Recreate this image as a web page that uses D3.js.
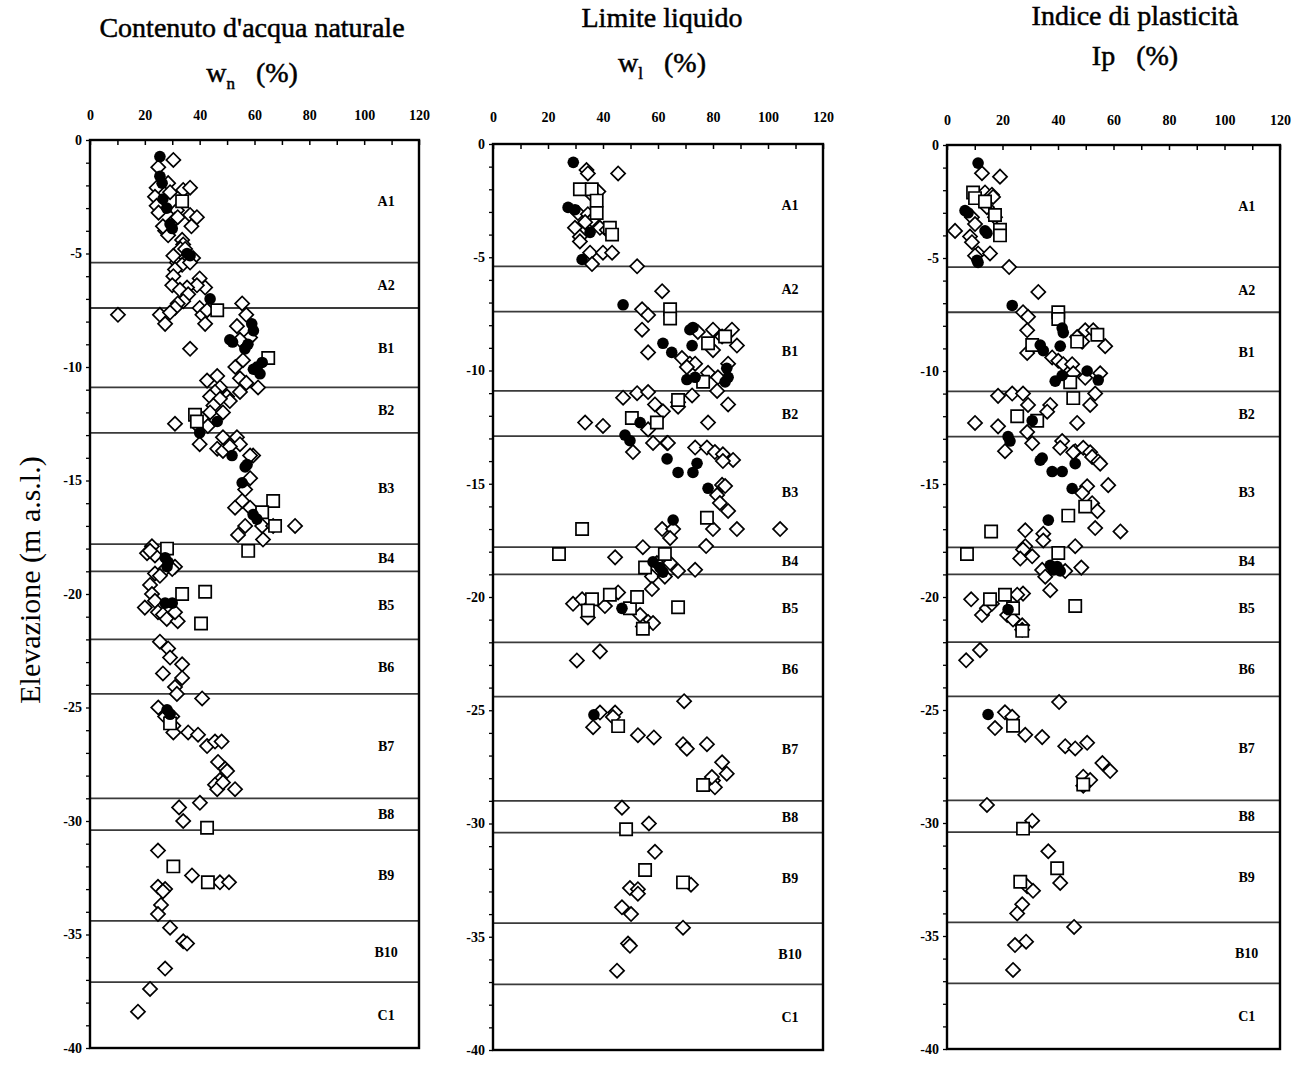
<!DOCTYPE html>
<html>
<head>
<meta charset="utf-8">
<script src="https://cdn.jsdelivr.net/npm/d3@7"></script>
<style>
  body { margin: 0; background: #fff; }
  text { font-family: "Liberation Serif", "Times New Roman", serif; }
</style>
</head>
<body>
<svg id="chart" width="1304" height="1065"></svg>
<script>
// points are [value %, elevation m a.s.l.]

// --- natural water content wn
const wnDiamonds = [
  [30.4,-0.88],[24.9,-1.2],[24.3,-2.1],[28.5,-1.9],[29.2,-2.3],[34,-2.2],[36.5,-2.1],
  [23.7,-2.5],[24.3,-2.9],[25,-3.2],[31.7,-3.1],[36.5,-3.3],[39,-3.4],[37,-3.8],
  [27.4,-4.0],[28.5,-4.2],[26.6,-3.8],[31,-3.5],[32,-3.4],[33.6,-4.4],[34,-4.6],
  [33,-4.8],[34.7,-4.8],[37.6,-5.2],[31.7,-5.4],[33.6,-5.5],[36.5,-5.4],[30.4,-5.1],
  [31,-5.7],[30.4,-6.0],[30,-6.4],[40,-6.1],[42,-6.5],[39,-6.4],[35.4,-6.5],[32.8,-6.6],[35.8,-6.8],
  [40,-7.4],[41,-7.7],[42,-8.1],[42.7,-7.5],[34,-7.1],[32,-7.2],[31,-7.4],
  [25.5,-7.7],[27.4,-8.1],[29.2,-7.6],[10.2,-7.7],[36.5,-9.2],
  [55.5,-7.2],[57,-7.7],[53.6,-8.2],[58.4,-8.7],[54.7,-8.8],
  [53,-10.0],[55.8,-9.7],[54.7,-10.5],[57,-10.7],[61.3,-10.9],[54.7,-11.1],
  [42.7,-10.6],[46.4,-10.4],[47.4,-10.9],[45.6,-11.1],[43.8,-11.3],
  [50,-11.3],[51,-11.5],[47.4,-11.4],[45,-11.7],[43.8,-12.0],
  [41,-12.3],[39.4,-12.6],[43,-12.6],[48.5,-12.0],[31,-12.5],[40,-13.4],
  [48.5,-13.1],[53.6,-13.1],[54.7,-13.4],[59.5,-13.9],[46.4,-13.6],[48.5,-13.7],[51,-13.5],
  [58.4,-13.9],[58.4,-14.9],[56.6,-15.4],[55.5,-15.9],[52.9,-16.2],[58.4,-16.2],
  [56.6,-17.0],[54,-17.4],[62.8,-17.0],[66.8,-17.0],[74.8,-17.0],[63.1,-17.6],
  [22.6,-17.9],[20.8,-18.2],[23.7,-18.3],[21.9,-18.1],
  [31,-18.8],[26.6,-19.0],[23.7,-19.1],[25.5,-19.2],[30,-18.9],
  [21.9,-19.6],[22.6,-20.0],[20,-20.6],[23.7,-20.3],
  [24.8,-20.8],[26.6,-20.9],[28,-21.1],[32,-21.2],[31,-20.8],
  [25.5,-22.1],[28.5,-22.4],[29.2,-22.8],[33.6,-23.1],[26.6,-23.5],[33.6,-23.7],
  [31,-24.1],[31.7,-24.4],[40.9,-24.6],
  [24.9,-25.0],[27.4,-25.4],[30,-25.4],[30.4,-25.8],[30.4,-26.1],[35.8,-26.1],[39.4,-26.2],
  [42.7,-26.7],[45.6,-26.5],[48,-26.5],[46.7,-27.4],[49.3,-27.7],
  [50,-27.8],[47.4,-28.2],[45.6,-28.4],[46.4,-28.6],[52.9,-28.6],[48.5,-28.3],
  [40.1,-29.2],[32.5,-29.4],[34,-30.0],
  [24.8,-31.3],[37.2,-32.4],[47.4,-32.7],[50.7,-32.7],
  [24.8,-32.9],[27.4,-33.0],[26.6,-33.1],[25.9,-33.7],[24.8,-34.1],
  [29.2,-34.7],[34,-35.3],[35.4,-35.4],[27.4,-36.5],
  [21.9,-37.4],[17.5,-38.4]
];
const wnSquares = [
  [33.6,-2.7],[46.4,-7.5],[65,-9.6],[38.3,-12.1],[39,-12.4],
  [66.8,-15.9],[62.8,-16.4],[67.5,-17.0],[57.7,-18.1],[28.1,-18.0],
  [33.6,-20.0],[42,-19.9],[40.5,-21.3],[29.2,-25.7],[42.7,-30.3],[30.4,-32.0],[43,-32.7]
];
const wnCircles = [
  [25.5,-0.73],[25.5,-1.6],[26.3,-1.9],[26.6,-2.6],[28,-3.0],[29.2,-3.7],[30,-3.9],
  [35.4,-5.0],[36.5,-5.1],[43.8,-7.0],[59,-8.1],[59.6,-8.4],[51,-8.8],[52,-8.9],
  [56.5,-9.2],[57.6,-9.0],[61,-10.0],[62,-10.3],[59.6,-10.1],[62.8,-9.8],
  [46.4,-12.4],[40,-12.9],[51.8,-13.9],[56.6,-14.4],[57.3,-14.3],[55.5,-15.1],
  [59.5,-16.5],[60.9,-16.7],[27.4,-18.4],[28.5,-18.6],[28.1,-18.8],
  [27.4,-20.4],[30,-20.4],[28.1,-25.1],[29.2,-25.3]
];

// --- liquid limit wl
const wlDiamonds = [
  [34,-1.15],[34.5,-1.3],[45.5,-1.3],[38.3,-2.1],[36.4,-2.3],
  [30.9,-3.05],[34.5,-3.1],[36,-3.35],[29.8,-3.7],[31.6,-4.1],[31.6,-4.3],[33.5,-3.45],
  [38.9,-3.7],[41.4,-3.8],[35.3,-4.8],[40,-4.8],[43.3,-4.8],[36,-5.3],[52.4,-5.4],
  [61.5,-6.5],[54.2,-7.3],[56.4,-7.55],[54.2,-8.2],[56.4,-9.2],
  [74.5,-8.3],[80,-8.2],[83.3,-8.5],[86.9,-8.2],[88.7,-8.9],[80,-9.1],
  [68.7,-9.45],[71.6,-9.7],[73.5,-9.7],[70.5,-9.85],[78.2,-10.1],[81.8,-10.3],
  [85.5,-9.7],[81.5,-10.9],[85.5,-11.5],
  [47.3,-11.2],[52.4,-11.0],[56.4,-10.95],[72.4,-11.1],[67.3,-11.4],[58.9,-11.5],
  [61.8,-11.8],[67.3,-11.6],[78.2,-12.3],[33.5,-12.3],[40,-12.45],
  [56.4,-12.6],[58.2,-13.2],[63.3,-13.2],[50.9,-13.6],
  [63.6,-13.2],[73.5,-13.4],[77.8,-13.4],[80.7,-13.6],[83.6,-13.7],[87.3,-13.95],[83.6,-14.0],
  [83.3,-15.05],[84.4,-15.1],[81.5,-15.5],[82.5,-15.85],[85.5,-16.2],[80,-17.0],[88.7,-17.0],[104.4,-17.0],
  [61.5,-17.0],[65.5,-17.0],[64.4,-17.4],[77.5,-17.75],
  [44.4,-18.25],[54.5,-17.8],[59.6,-18.5],[64.4,-18.5],[57.8,-19.1],[62.5,-19.1],[67.3,-18.85],[73.5,-18.8],
  [57.8,-19.65],[29.1,-20.3],[32.4,-20.1],[34.5,-20.9],[40.7,-20.4],[45.5,-19.8],
  [53.5,-20.8],[56.4,-21.1],[58.2,-21.15],[54.5,-21.3],
  [30.5,-22.8],[38.9,-22.4],[69.5,-24.6],
  [36.4,-25.75],[38.9,-25.1],[44.4,-25.1],[43.6,-25.3],
  [52.7,-26.1],[58.5,-26.2],[69.1,-26.5],[70.5,-26.7],[77.8,-26.5],[83.3,-27.3],
  [85,-27.8],[80,-28.1],[80.7,-28.4],[79.6,-27.95],
  [46.9,-29.3],[56.7,-30.0],[58.9,-31.25],[72,-32.7],
  [49.8,-32.85],[52.7,-32.9],[52.7,-33.1],[46.9,-33.7],[50.2,-34.0],[69.1,-34.6],
  [49.1,-35.3],[49.8,-35.4],[45.1,-36.5]
];
const wlSquares = [
  [31.6,-2.0],[35.9,-2.0],[37.7,-2.5],[37.7,-3.05],[42.5,-3.7],[43.3,-4.0],
  [64.4,-7.3],[64.4,-7.7],[78.2,-8.8],[84.4,-8.5],[76.4,-10.5],[67.3,-11.3],
  [50.5,-12.1],[59.6,-12.3],[77.8,-16.5],[32.4,-17.0],
  [24,-18.1],[62.5,-18.1],[55.3,-18.7],
  [36,-20.1],[34.5,-20.6],[42.5,-19.9],[49.8,-20.5],[52.4,-20.0],[54.5,-21.4],[67.3,-20.45],
  [45.5,-25.7],[76.4,-28.3],[48.4,-30.25],[55.3,-32.05],[69.1,-32.6]
];
const wlCircles = [
  [29.2,-0.81],[27.3,-2.8],[29.8,-2.9],[35.3,-3.9],[32.4,-5.1],[47.3,-7.1],
  [71.6,-8.2],[72.7,-8.1],[72.4,-8.9],[61.8,-8.8],[65,-9.2],
  [70.5,-10.4],[73.5,-10.3],[85,-9.9],[85.5,-10.3],[84.4,-10.5],
  [53.5,-12.3],[48,-12.85],[49.8,-13.1],
  [63.3,-13.9],[67.3,-14.5],[72.7,-14.5],[74.2,-14.1],[78.2,-15.2],[65.5,-16.6],
  [58.2,-18.45],[60.7,-18.7],[61.8,-18.9],[46.9,-20.5],[36.7,-25.2]
];

// --- plasticity index Ip
const ipDiamonds = [
  [12.6,-1.25],[19.1,-1.4],[13.7,-2.1],[16.2,-2.2],[16.6,-2.3],[14.4,-2.75],
  [9,-3.2],[10.1,-3.5],[2.9,-3.8],[8.3,-4.05],[9,-4.3],[17.3,-3.2],
  [11.2,-4.8],[15.5,-4.8],[10.1,-4.9],[22.4,-5.4],
  [32.9,-6.5],[27.4,-7.4],[29.2,-7.6],[28.9,-8.2],[28.9,-9.2],
  [49.8,-8.2],[52.7,-8.2],[46.9,-8.5],[48.7,-8.7],[57,-8.9],[37.9,-9.4],[40.1,-9.55],[41.9,-9.7],
  [45.1,-9.7],[45.5,-10.1],[55.2,-10.1],[49.8,-10.3],[53.4,-11.0],[51.6,-11.5],[46.9,-12.3],
  [18.4,-11.1],[23.5,-11.0],[27.4,-11.0],[29.2,-11.5],[37.2,-11.5],[36.1,-11.8],
  [10.1,-12.3],[18.4,-12.45],[28.9,-12.7],[30.7,-13.2],[20.9,-13.55],
  [41.5,-13.1],[40.8,-13.4],[46.2,-13.55],[49.1,-13.4],[51.6,-13.6],
  [45.5,-13.6],[52.3,-13.8],[54.5,-14.0],[55.2,-14.1],
  [50.5,-15.1],[58.1,-15.05],[48.7,-15.4],[52.3,-15.85],[54.2,-16.2],[53.4,-16.95],[62.5,-17.1],
  [28.2,-17.05],[34.7,-17.2],[34.7,-17.5],[28.2,-17.75],[27.4,-17.9],[26.4,-18.3],[30.7,-18.2],
  [46.2,-17.75],[48.4,-18.7],[34.3,-18.8],[35.4,-19.1],[42.6,-18.85],[37.2,-19.7],
  [8.7,-20.1],[12.6,-20.8],[14.4,-20.5],[16.2,-20.3],[27.4,-19.85],[25.3,-19.9],
  [21.7,-20.8],[23.8,-21.0],[27.1,-21.25],[27.1,-21.45],
  [6.9,-22.8],[11.9,-22.35],[40.4,-24.65],
  [17.3,-25.8],[20.9,-25.1],[23.5,-25.3],[28.2,-26.1],[34.3,-26.2],[42.6,-26.6],[46.2,-26.7],
  [50.5,-26.45],[56,-27.35],[58.8,-27.7],[49.1,-27.95],[51.6,-28.1],[49.1,-28.35],
  [14.4,-29.2],[30.7,-29.9],[36.5,-31.25],[40.8,-32.65],
  [28.9,-32.8],[31,-33.0],[27.1,-33.6],[25.3,-34.0],[45.8,-34.6],
  [28.5,-35.25],[24.5,-35.4],[23.8,-36.5]
];
const ipSquares = [
  [9.4,-2.1],[10.1,-2.35],[13.7,-2.5],[17.3,-3.1],[19.1,-3.75],[19.1,-4.0],
  [40.1,-7.4],[40.1,-7.7],[30.7,-8.85],[46.9,-8.7],[54.2,-8.4],[44.4,-10.5],[45.5,-11.2],
  [25.3,-12.0],[32.5,-12.2],[49.8,-16.0],[43.7,-16.4],[15.9,-17.1],[7.2,-18.1],[40.1,-18.05],
  [15.5,-20.1],[20.9,-19.9],[23.8,-20.5],[46.2,-20.4],[27.1,-21.5],
  [23.8,-25.7],[49.1,-28.3],[27.4,-30.25],[39.7,-32.0],[26.4,-32.6]
];
const ipCircles = [
  [11.2,-0.8],[6.5,-2.9],[7.6,-3.0],[13.7,-3.8],[14.4,-3.9],[10.8,-5.1],[11.2,-5.2],
  [23.5,-7.1],[41.5,-8.1],[41.9,-8.3],[40.8,-8.9],[33.6,-8.85],[34.7,-9.1],
  [39,-10.45],[41.5,-10.2],[50.5,-10.0],[54.5,-10.4],
  [30.7,-12.2],[22,-12.9],[22.7,-13.1],[34.3,-13.85],
  [33.6,-13.95],[37.9,-14.45],[41.5,-14.45],[46.2,-14.1],[45.1,-15.2],[36.5,-16.6],
  [37.2,-18.6],[39.7,-18.65],[40.8,-18.85],[38.3,-18.8],[22,-20.55],[14.8,-25.2]
];

// stratigraphic units
const layerBounds = [-5.4, -7.4, -10.9, -12.9, -17.8, -19.0, -22.0, -24.4, -29.0, -30.4, -34.4, -37.1];
const layerNames = ["A1","A2","B1","B2","B3","B4","B5","B6","B7","B8","B9","B10","C1"];

const xTicks = d3.range(0, 121, 10);
const yTicks = d3.range(0, -41, -1);

const svg = d3.select("#chart");

const panels = [
  { title: "Contenuto d'acqua naturale", sym: "w", sub: "n", cx: 252, titleY: 37, symY: 82,
    left: 90, right: 419, top: 140, bottom: 1048, tickY: 120,
    diamonds: wnDiamonds, squares: wnSquares, circles: wnCircles },
  { title: "Limite liquido", sym: "w", sub: "l", cx: 662, titleY: 27, symY: 72,
    left: 493, right: 823, top: 144, bottom: 1050, tickY: 122,
    diamonds: wlDiamonds, squares: wlSquares, circles: wlCircles },
  { title: "Indice di plasticità", sym: "Ip", sub: "", cx: 1135, titleY: 25, symY: 65,
    left: 947, right: 1280, top: 145, bottom: 1049, tickY: 125,
    diamonds: ipDiamonds, squares: ipSquares, circles: ipCircles }
];

const diamondPath = d3.symbol(d3.symbolSquare, 100)();
const squarePath = d3.symbol(d3.symbolSquare, 150)();

panels.forEach(p => {
  const x = d3.scaleLinear().domain([0, 120]).range([p.left, p.right]);
  const y = d3.scaleLinear().domain([0, -40]).range([p.top, p.bottom]);
  const g = svg.append("g");

  // titles (slight stroke to mimic the heavy print)
  g.append("text")
    .attr("x", p.cx).attr("y", p.titleY)
    .attr("text-anchor", "middle")
    .style("font-size", "28px")
    .attr("stroke", "#000").attr("stroke-width", 0.5)
    .text(p.title);
  const s = g.append("text")
    .attr("x", p.cx).attr("y", p.symY)
    .attr("text-anchor", "middle")
    .style("font-size", "28px")
    .attr("stroke", "#000").attr("stroke-width", 0.5)
    .style("white-space", "pre");
  s.append("tspan").text(p.sym);
  if (p.sub) s.append("tspan").attr("dy", 7).style("font-size", "17px").text(p.sub);
  s.append("tspan").attr("dy", p.sub ? -7 : 0).text("   (%)");

  // layer boundaries
  g.selectAll(".layer")
    .data(layerBounds)
    .join("line")
    .attr("x1", x(0)).attr("x2", x(120))
    .attr("y1", d => y(d)).attr("y2", d => y(d))
    .attr("stroke", "#3a3a3a")
    .attr("stroke-width", 1.8);

  const mids = layerNames.map((n, i) => {
    const a = i === 0 ? 0 : layerBounds[i - 1];
    const b = i === layerBounds.length ? -40 : layerBounds[i];
    return { name: n, e: (a + b) / 2 };
  });
  g.selectAll(".lname")
    .data(mids)
    .join("text")
    .attr("x", x(108)).attr("y", d => y(d.e) + 5)
    .attr("text-anchor", "middle")
    .style("font-size", "14px")
    .style("font-weight", "bold")
    .text(d => d.name);

  // top axis
  const xa = g.append("g")
    .attr("transform", "translate(0," + p.top + ")")
    .call(d3.axisTop(x).tickValues(xTicks).tickSize(-5).tickPadding(p.top - p.tickY)
      .tickFormat(d => d % 20 === 0 ? d : ""));
  xa.select(".domain").remove();
  xa.selectAll("line").attr("stroke", "#000").attr("stroke-width", 1.5);
  xa.selectAll("text")
    .style("font-family", "'Liberation Serif', serif")
    .style("font-size", "14px").style("font-weight", "bold").attr("fill", "#000");

  // left axis
  const ya = g.append("g")
    .attr("transform", "translate(" + p.left + ",0)")
    .call(d3.axisLeft(y).tickValues(yTicks).tickSize(4).tickPadding(4)
      .tickFormat(d => d % 5 === 0 ? String(d) : ""));
  ya.select(".domain").remove();
  ya.selectAll("line").attr("stroke", "#000").attr("stroke-width", 1.3);
  ya.selectAll("text")
    .style("font-family", "'Liberation Serif', serif")
    .style("font-size", "14px").style("font-weight", "bold").attr("fill", "#000");

  // frame
  g.append("rect")
    .attr("x", p.left).attr("y", p.top)
    .attr("width", p.right - p.left).attr("height", p.bottom - p.top)
    .attr("fill", "none").attr("stroke", "#000").attr("stroke-width", 2.4);

  // markers
  g.selectAll(".dia")
    .data(p.diamonds)
    .join("path")
    .attr("d", diamondPath)
    .attr("transform", d => "translate(" + x(d[0]) + "," + y(d[1]) + ") rotate(45)")
    .attr("fill", "#fff").attr("stroke", "#000").attr("stroke-width", 1.7);
  g.selectAll(".sq")
    .data(p.squares)
    .join("path")
    .attr("d", squarePath)
    .attr("transform", d => "translate(" + x(d[0]) + "," + y(d[1]) + ")")
    .attr("fill", "#fff").attr("stroke", "#000").attr("stroke-width", 1.7);
  g.selectAll(".ci")
    .data(p.circles)
    .join("circle")
    .attr("cx", d => x(d[0])).attr("cy", d => y(d[1]))
    .attr("r", 5.8)
    .attr("fill", "#000");
});

// y label
svg.append("text")
  .attr("transform", "translate(40,580) rotate(-90)")
  .attr("text-anchor", "middle")
  .style("font-size", "30px")
  .text("Elevazione (m a.s.l.)");
</script>
</body>
</html>
